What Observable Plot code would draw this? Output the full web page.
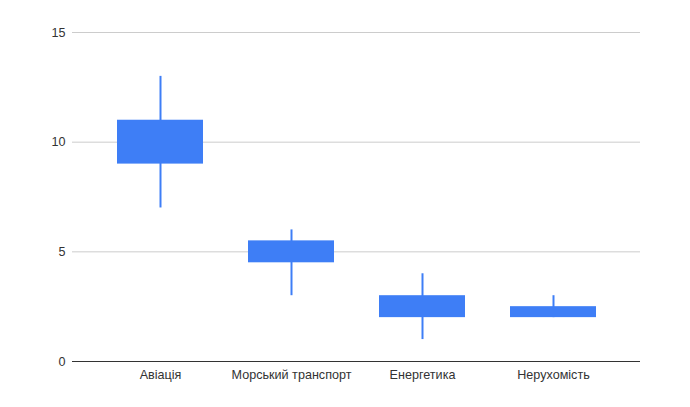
<!DOCTYPE html>
<html>
<head>
<meta charset="utf-8">
<script src="https://cdn.jsdelivr.net/npm/d3@7"></script>
<script src="https://cdn.jsdelivr.net/npm/@observablehq/plot@0.6"></script>
<style>
  html, body { margin: 0; padding: 0; background: #fff; }
</style>
</head>
<body>
<div id="chart"></div>
<script>
const categories = ["Авіація", "Морський транспорт", "Енергетика", "Нерухомість"];
const low   = [7, 3, 1, 2];
const open  = [9, 4.5, 2, 2];
const close = [11, 5.5, 3, 2.5];
const high  = [13, 6, 4, 3];
const yTicks = [0, 5, 10, 15];

const data = categories.map((c, i) => ({cat: c, low: low[i], open: open[i], close: close[i], high: high[i]}));
const blue = "#3e7ef6";

const chart = Plot.plot({
  width: 690,
  height: 407,
  marginLeft: 72,
  marginRight: 50,
  marginTop: 32,
  marginBottom: 46,
  style: {fontFamily: "'Liberation Sans', Arial, sans-serif", fontSize: "12.6px", color: "#333", background: "#fff"},
  x: {domain: categories, range: [94.3, 619.7], paddingInner: 0.34, paddingOuter: 0.17, label: null},
  y: {domain: [0, 15], label: null},
  marks: [
    Plot.ruleY(yTicks.filter(d => d > 0), {stroke: "#cccccc", strokeWidth: 1}),
    Plot.axisY({ticks: yTicks, tickSize: 0, tickPadding: 7, label: null}),
    Plot.axisX({tickSize: 0, tickPadding: 9, label: null}),
    Plot.ruleX(data, {x: "cat", y1: "low", y2: "high", stroke: blue, strokeWidth: 2}),
    Plot.barY(data, {x: "cat", y1: "open", y2: "close", fill: blue}),
    Plot.ruleY([0], {stroke: "#333333", strokeWidth: 1})
  ]
});
document.getElementById("chart").appendChild(chart);
</script>
</body>
</html>
